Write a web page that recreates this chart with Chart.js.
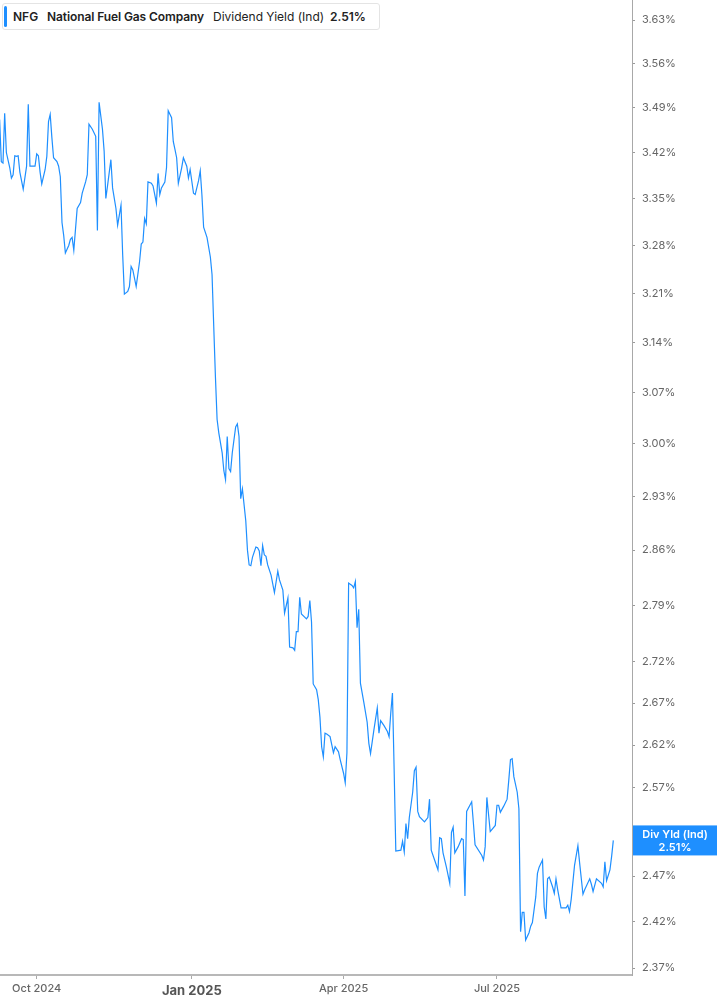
<!DOCTYPE html>
<html>
<head>
<meta charset="utf-8">
<script src="https://cdn.jsdelivr.net/npm/chart.js@4.4.1/dist/chart.umd.min.js"></script>
<style>
html,body{margin:0;padding:0;background:#fff;}
#wrap{position:relative;width:717px;height:1005px;overflow:hidden;}
#c{position:absolute;left:0;top:0;}
#legend{position:absolute;left:2px;top:3px;width:378px;height:27px;box-sizing:border-box;border:1px solid #e4e4e4;border-radius:3px;background:#fff;
  font-family:Inter,"Noto Sans",sans-serif;font-size:12px;color:#222;white-space:nowrap;}
#legend span{position:absolute;top:5px;line-height:16px;}
#legend .bar{left:1px;top:2px;bottom:2px;width:3px;height:auto;background:#1e8fff;border-radius:2px;}
#legend .b{font-weight:600;}
</style>
</head>
<body>
<div id="wrap">
  <canvas id="c" width="717" height="1005"></canvas>
  <div id="legend"><span class="bar"></span><span class="b" style="left:10px">NFG</span><span class="b" style="left:44px;letter-spacing:-0.1px">National Fuel Gas Company</span><span style="left:210px">Dividend Yield (Ind)</span><span class="b" style="left:327px">2.51%</span></div>
</div>
<script>
// ---- data ----
const dates = [
'2024-09-09','2024-09-10','2024-09-11','2024-09-12','2024-09-13','2024-09-15','2024-09-16','2024-09-17','2024-09-18','2024-09-19',
'2024-09-20','2024-09-21','2024-09-23','2024-09-25','2024-09-26','2024-09-27','2024-09-30','2024-10-01','2024-10-02','2024-10-03',
'2024-10-04','2024-10-06','2024-10-07','2024-10-08','2024-10-09','2024-10-10','2024-10-11','2024-10-13','2024-10-14','2024-10-15',
'2024-10-16','2024-10-17','2024-10-18','2024-10-20','2024-10-21','2024-10-22','2024-10-23','2024-10-25','2024-10-27','2024-10-28',
'2024-10-30','2024-10-31','2024-11-01','2024-11-03','2024-11-05','2024-11-06','2024-11-07','2024-11-09','2024-11-10','2024-11-11',
'2024-11-12','2024-11-14','2024-11-15','2024-11-17','2024-11-18','2024-11-20','2024-11-21','2024-11-22','2024-11-24','2024-11-25',
'2024-11-26','2024-11-27','2024-11-29','2024-12-01','2024-12-02','2024-12-03','2024-12-04','2024-12-05','2024-12-06','2024-12-08',
'2024-12-09','2024-12-11','2024-12-12','2024-12-13','2024-12-14','2024-12-16','2024-12-17','2024-12-18','2024-12-20','2024-12-21',
'2024-12-22','2024-12-23','2024-12-24','2024-12-26','2024-12-27','2024-12-29','2024-12-30','2024-12-31','2025-01-02','2025-01-03',
'2025-01-05','2025-01-06','2025-01-07','2025-01-08','2025-01-10','2025-01-12','2025-01-13','2025-01-14','2025-01-15','2025-01-16',
'2025-01-17','2025-01-19','2025-01-20','2025-01-21','2025-01-22','2025-01-23','2025-01-24','2025-01-25','2025-01-27','2025-01-28',
'2025-01-29','2025-01-30','2025-01-31','2025-02-02','2025-02-03','2025-02-04','2025-02-05','2025-02-06','2025-02-08','2025-02-09',
'2025-02-10','2025-02-11','2025-02-12','2025-02-13','2025-02-14','2025-02-15','2025-02-17','2025-02-19','2025-02-21','2025-02-22',
'2025-02-24','2025-02-25','2025-02-27','2025-02-28','2025-03-02','2025-03-03','2025-03-04','2025-03-05','2025-03-06','2025-03-07',
'2025-03-10','2025-03-11','2025-03-12','2025-03-13','2025-03-14','2025-03-16','2025-03-17','2025-03-18','2025-03-19','2025-03-20',
'2025-03-21','2025-03-22','2025-03-24','2025-03-26','2025-03-27','2025-03-29','2025-03-30','2025-04-01','2025-04-02','2025-04-03',
'2025-04-04','2025-04-06','2025-04-07','2025-04-08','2025-04-09','2025-04-10','2025-04-11','2025-04-13','2025-04-15','2025-04-16',
'2025-04-17','2025-04-19','2025-04-21','2025-04-22','2025-04-23','2025-04-25','2025-04-27','2025-04-28','2025-04-29','2025-04-30',
'2025-05-01','2025-05-02','2025-05-05','2025-05-06','2025-05-07','2025-05-08','2025-05-09','2025-05-10','2025-05-12','2025-05-13',
'2025-05-14','2025-05-15','2025-05-16','2025-05-19','2025-05-21','2025-05-22','2025-05-23','2025-05-25','2025-05-27','2025-05-28',
'2025-05-29','2025-05-30','2025-06-01','2025-06-03','2025-06-04','2025-06-05','2025-06-06','2025-06-08','2025-06-10','2025-06-11',
'2025-06-12','2025-06-13','2025-06-16','2025-06-17','2025-06-18','2025-06-22','2025-06-23','2025-06-24','2025-06-25','2025-06-27',
'2025-06-30','2025-07-01','2025-07-02','2025-07-03','2025-07-05','2025-07-07','2025-07-08','2025-07-09','2025-07-10','2025-07-11',
'2025-07-13','2025-07-14','2025-07-15','2025-07-16','2025-07-17','2025-07-18','2025-07-20','2025-07-21','2025-07-22','2025-07-24',
'2025-07-25','2025-07-26','2025-07-28','2025-07-29','2025-07-30','2025-07-31','2025-08-01','2025-08-03','2025-08-04','2025-08-05',
'2025-08-06','2025-08-08','2025-08-11','2025-08-12','2025-08-13','2025-08-14','2025-08-16','2025-08-18','2025-08-19','2025-08-21',
'2025-08-22','2025-08-25','2025-08-26','2025-08-27','2025-08-29','2025-09-01','2025-09-02','2025-09-03','2025-09-04','2025-09-06',
'2025-09-07','2025-09-08'
];
const yields = [
3.471,3.406,3.404,3.481,3.420,3.397,3.381,3.386,3.415,3.414,
3.415,3.390,3.364,3.399,3.495,3.399,3.399,3.418,3.415,3.390,
3.372,3.394,3.414,3.468,3.479,3.443,3.412,3.406,3.399,3.383,
3.314,3.295,3.269,3.280,3.289,3.292,3.273,3.335,3.344,3.358,
3.375,3.386,3.464,3.456,3.445,3.302,3.498,3.456,3.422,3.350,
3.369,3.409,3.366,3.335,3.310,3.340,3.266,3.209,3.213,3.220,
3.249,3.244,3.220,3.256,3.282,3.285,3.320,3.312,3.375,3.373,
3.369,3.343,3.388,3.356,3.366,3.375,3.397,3.485,3.474,3.437,
3.425,3.412,3.373,3.397,3.412,3.399,3.381,3.394,3.358,3.356,
3.377,3.392,3.355,3.307,3.292,3.263,3.237,3.163,3.092,3.033,
3.015,2.988,2.964,2.952,3.010,2.967,2.963,2.988,3.023,3.027,
3.010,2.927,2.940,2.898,2.860,2.841,2.840,2.851,2.864,2.863,
2.859,2.840,2.866,2.854,2.852,2.841,2.828,2.806,2.833,2.822,
2.809,2.780,2.799,2.738,2.737,2.734,2.757,2.757,2.800,2.779,
2.773,2.776,2.796,2.769,2.693,2.686,2.674,2.653,2.618,2.606,
2.634,2.633,2.630,2.611,2.618,2.612,2.603,2.587,2.576,2.611,
2.818,2.815,2.812,2.820,2.762,2.785,2.694,2.671,2.647,2.622,
2.610,2.638,2.664,2.634,2.649,2.643,2.636,2.630,2.658,2.682,
2.591,2.498,2.499,2.509,2.497,2.529,2.512,2.536,2.565,2.590,
2.594,2.543,2.537,2.531,2.536,2.557,2.499,2.488,2.477,2.513,
2.512,2.496,2.480,2.462,2.519,2.525,2.496,2.503,2.512,2.511,
2.448,2.543,2.554,2.530,2.505,2.493,2.488,2.503,2.559,2.520,
2.527,2.550,2.550,2.542,2.549,2.557,2.579,2.603,2.604,2.583,
2.565,2.546,2.409,2.430,2.430,2.400,2.408,2.415,2.419,2.447,
2.473,2.480,2.488,2.436,2.423,2.467,2.469,2.458,2.451,2.467,
2.455,2.435,2.435,2.438,2.431,2.444,2.482,2.504,2.485,2.450,
2.455,2.467,2.461,2.453,2.467,2.462,2.458,2.486,2.465,2.477,
2.492,2.510
];
const xTickDates = ['2024-10-01','2025-01-01','2025-04-01','2025-07-01'];
const xTickLabels = ['Oct 2024','Jan 2025','Apr 2025','Jul 2025'];
const yTicks = [2.37,2.42,2.47,2.52,2.57,2.62,2.67,2.72,2.79,2.86,2.93,3.00,3.07,3.14,3.21,3.28,3.35,3.42,3.49,3.56,3.63];
const xRange = ['2024-09-09T05:30:00Z','2025-09-19T02:00:00Z'];
const yRange = [2.3626, 3.6628];
const seriesName = 'Div Yld (Ind)';

// ---- chart ----
const DAY = 864e5;
const toDay = s => Date.parse(s) / DAY;
const points = dates.map((d, i) => ({x: toDay(d), y: yields[i]}));
const LINE = '#1e8fff';

const priceTag = {
  id: 'priceTag',
  afterDraw(chart) {
    const {ctx, scales: {x, y}} = chart;
    const last = yields[yields.length - 1];
    const py = y.getPixelForValue(last);
    const left = x.right + 1;
    const w = chart.width - left;
    ctx.save();
    ctx.fillStyle = LINE;
    ctx.fillRect(left, py - 15, w, 30);
    ctx.fillStyle = '#fff';
    ctx.font = '600 11px Inter, "Noto Sans", sans-serif';
    ctx.textAlign = 'center';
    ctx.textBaseline = 'middle';
    ctx.fillText(seriesName, left + w / 2, py - 6);
    ctx.fillText(last.toFixed(2) + '%', left + w / 2, py + 7);
    ctx.restore();
  }
};

new Chart(document.getElementById('c'), {
  type: 'line',
  data: {
    datasets: [{
      data: points,
      borderColor: LINE,
      borderWidth: 1.2,
      pointRadius: 0,
      tension: 0,
      fill: false
    }]
  },
  options: {
    responsive: false,
    animation: false,
    layout: {padding: 0},
    plugins: {legend: {display: false}, tooltip: {enabled: false}},
    scales: {
      x: {
        type: 'linear',
        position: 'bottom',
        min: toDay(xRange[0]),
        max: toDay(xRange[1]),
        bounds: 'data',
        afterBuildTicks(s) {
          s.ticks = xTickDates.map((d, i) => ({value: toDay(d), major: xTickLabels[i].startsWith('Jan')}));
        },
        afterFit(s) { s.height = 30; s.paddingLeft = 0; s.paddingRight = 0; },
        grid: {drawOnChartArea: false, drawTicks: true, tickLength: 4, tickColor: '#aaaaaa', tickWidth: 1},
        border: {display: true, color: '#b8b8b8', width: 2},
        ticks: {
          autoSkip: false, maxRotation: 0, minRotation: 0, padding: 3,
          callback: (v, i) => xTickLabels[i],
          color: c => (c.tick && c.tick.major) ? '#555' : '#666',
          font: c => (c.tick && c.tick.major)
            ? {family: 'Inter, "Noto Sans", sans-serif', size: 13, weight: '700', lineHeight: 1.4}
            : {family: 'Inter, "Noto Sans", sans-serif', size: 11, weight: '500'}
        }
      },
      y: {
        type: 'logarithmic',
        position: 'right',
        min: yRange[0],
        max: yRange[1],
        bounds: 'data',
        afterBuildTicks(s) {
          s.ticks = yTicks.map(v => ({value: v}));
        },
        afterFit(s) { s.width = 85; s.paddingTop = 0; s.paddingBottom = 0; },
        grid: {drawOnChartArea: false, drawTicks: true, tickLength: 3, tickColor: '#999', tickWidth: 1},
        border: {display: true, color: '#a8a8a8', width: 1},
        ticks: {
          autoSkip: false, padding: 7,
          callback: v => Number(v).toFixed(2) + '%',
          color: '#666',
          font: {family: 'Inter, "Noto Sans", sans-serif', size: 11}
        }
      }
    }
  },
  plugins: [priceTag]
});
</script>
</body>
</html>
